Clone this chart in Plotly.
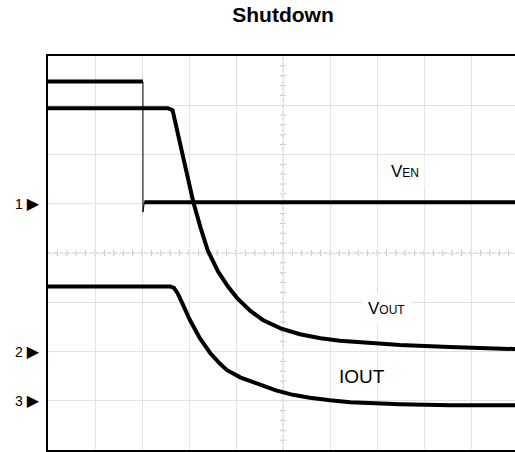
import plotly.graph_objects as go

# Time axis in scope divisions, levels in vertical divisions (0 = bottom of screen)
ven_t = [0, 2.02, 2.02, 2.05, 9.94]
ven_v = [7.48, 7.48, 4.83, 5.03, 5.03]

vout_t = [0, 2.55, 2.65, 2.72, 2.87, 3.09, 3.25, 3.40, 3.62, 3.83, 4.02, 4.30, 4.57, 4.95,
          5.36, 5.80, 6.21, 6.80, 7.49, 8.55, 9.94]
vout_v = [6.94, 6.94, 6.90, 6.60, 5.89, 5.04, 4.50, 4.05, 3.62, 3.32, 3.09, 2.83, 2.64, 2.47,
          2.35, 2.27, 2.22, 2.17, 2.13, 2.09, 2.05]

iout_t = [0, 2.60, 2.68, 2.76, 2.88, 3.02, 3.23, 3.45, 3.65, 3.81, 4.10, 4.51, 4.85, 5.21,
          5.57, 6.00, 6.43, 7.49, 8.55, 9.94]
iout_v = [3.32, 3.32, 3.29, 3.18, 2.93, 2.64, 2.27, 1.97, 1.76, 1.62, 1.47, 1.32, 1.21, 1.12,
          1.06, 1.01, 0.97, 0.93, 0.91, 0.91]

channel_markers = ["1", "2", "3"]
channel_levels = [5, 2, 1]

title = "Shutdown"
X_MAX = 467 / 47
Y_MAX = 8

fig = go.Figure()

# VEN: thin full trace (shows the falling edge), thick flat parts
fig.add_trace(go.Scatter(x=ven_t, y=ven_v, mode="lines",
                         line=dict(color="black", width=1), hoverinfo="skip"))
fig.add_trace(go.Scatter(x=ven_t[:2] + [None] + ven_t[3:], y=ven_v[:2] + [None] + ven_v[3:],
                         mode="lines", line=dict(color="black", width=4), hoverinfo="skip"))
fig.add_trace(go.Scatter(x=vout_t, y=vout_v, mode="lines",
                         line=dict(color="black", width=4), hoverinfo="skip"))
fig.add_trace(go.Scatter(x=iout_t, y=iout_v, mode="lines",
                         line=dict(color="black", width=4), hoverinfo="skip"))

# Center graticule with minor ticks
shapes = []
gcol = "#c4c4c4"
shapes.append(dict(type="line", x0=5, x1=5, y0=0, y1=Y_MAX, line=dict(color=gcol, width=1, dash="dot"), layer="below"))
shapes.append(dict(type="line", x0=0, x1=X_MAX, y0=4, y1=4, line=dict(color=gcol, width=1, dash="dot"), layer="below"))
for i in range(1, int(X_MAX * 5) + 1):
    xv = i * 0.2
    shapes.append(dict(type="line", x0=xv, x1=xv, y0=3.94, y1=4.06, line=dict(color=gcol, width=1), layer="below"))
for i in range(1, Y_MAX * 5):
    yv = i * 0.2
    shapes.append(dict(type="line", x0=4.94, x1=5.06, y0=yv, y1=yv, line=dict(color=gcol, width=1), layer="below"))

annotations = []
for m, lv in zip(channel_markers, channel_levels):
    annotations.append(dict(xref="paper", x=0, y=lv, yref="y", xanchor="right", xshift=-6,
                            text=m + " <span style='font-size:16px'>\u25B6</span>", showarrow=False,
                            font=dict(size=14, color="black", family="Liberation Sans, Arial, DejaVu Sans")))

lab_font = dict(size=17, color="black", family="Liberation Sans, Arial")
annotations.append(dict(x=7.6, y=5.65, text="V<span style='font-size:12px'>EN</span>", showarrow=False,
                        font=lab_font, bgcolor="white", borderpad=5))
annotations.append(dict(x=7.2, y=2.88, text="V<span style='font-size:12px'>OUT</span>", showarrow=False,
                        font=lab_font, bgcolor="white", borderpad=5))
annotations.append(dict(x=6.68, y=1.5, text="IOUT", showarrow=False,
                        font=dict(size=19, color="black", family="Liberation Sans, Arial")))

fig.update_layout(
    width=515, height=452,
    margin=dict(l=48, r=0, t=56, b=2),
    paper_bgcolor="white", plot_bgcolor="white",
    showlegend=False,
    title=dict(text="<b>" + title + "</b>", x=283 / 515, xanchor="center", xref="container",
               y=1 - 15 / 452, yref="container", yanchor="middle",
               font=dict(size=21, color="black", family="Liberation Sans, Arial")),
    xaxis=dict(range=[0, X_MAX], dtick=1, tick0=0, showgrid=True, gridcolor="#e2e2e2", gridwidth=1,
               showticklabels=False, ticks="", zeroline=False,
               showline=True, linecolor="black", linewidth=2, mirror=True, fixedrange=True),
    yaxis=dict(range=[0, Y_MAX], dtick=1, tick0=0, showgrid=True, gridcolor="#e2e2e2", gridwidth=1,
               showticklabels=False, ticks="", zeroline=False,
               showline=True, linecolor="black", linewidth=2, mirror=False, fixedrange=True),
    shapes=shapes,
    annotations=annotations,
)

fig.write_html("out.html", config={"displayModeBar": False},
               post_script="document.body.style.margin='0';document.body.style.overflow='hidden';")
